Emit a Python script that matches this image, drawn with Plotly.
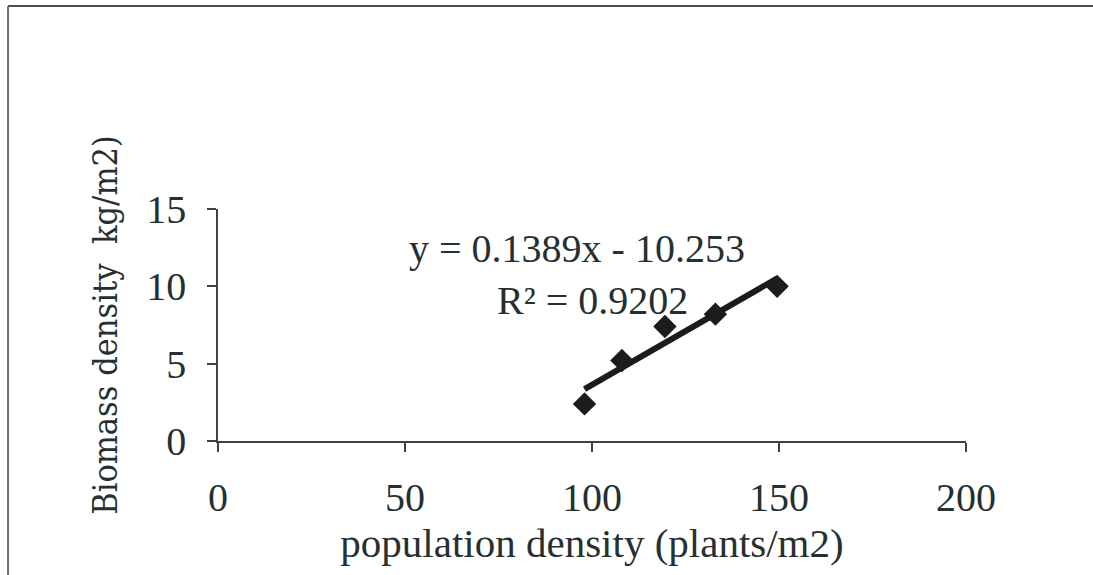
import plotly.graph_objects as go

# Population density (plants/m2) and biomass density (kg/m2)
population = [98, 108, 119.5, 133, 149.5]
biomass = [2.4, 5.2, 7.4, 8.2, 10.0]

# Linear trendline parameters as reported on the chart
SLOPE = 0.1389
INTERCEPT = -10.253
R2 = 0.9202

x_ticks = [0, 50, 100, 150, 200]
y_ticks = [0, 5, 10, 15]

ink = "#263030"
axis_col = "#3a4444"
serif = "Liberation Serif, Times New Roman, serif"

trend_x = [min(population), max(population)]
trend_y = [SLOPE * v + INTERCEPT for v in trend_x]

fig = go.Figure()
fig.add_trace(go.Scatter(
    x=trend_x, y=trend_y, mode="lines",
    line=dict(color="#1c1c1c", width=6),
    showlegend=False,
))
fig.add_trace(go.Scatter(
    x=population, y=biomass, mode="markers",
    marker=dict(symbol="diamond", size=18, color="#1c1c1c"),
    showlegend=False,
))

fig.add_annotation(
    x=0.48, y=0.828, xref="paper", yref="paper",
    xanchor="center", yanchor="middle",
    text=f"y = {SLOPE}x - {abs(INTERCEPT)}",
    showarrow=False, font=dict(family=serif, size=40, color=ink),
)
fig.add_annotation(
    x=0.5, y=0.605, xref="paper", yref="paper",
    xanchor="center", yanchor="middle",
    text=f"R² = {R2}",
    showarrow=False, font=dict(family=serif, size=40, color=ink),
)

# page frame lines (left and top)
fig.add_shape(type="line", xref="paper", yref="paper",
              x0=-0.2807, x1=1.2, y0=1.875, y1=1.875,
              line=dict(color="#5a4d40", width=2))
fig.add_shape(type="line", xref="paper", yref="paper",
              x0=-0.2807, x1=-0.2807, y0=1.875, y1=-0.6,
              line=dict(color="#6a6e70", width=2))

fig.update_xaxes(
    range=[0, 200], tickvals=x_ticks, ticks="outside", ticklen=9,
    tickwidth=1.5, tickcolor=axis_col, showline=True, linecolor=axis_col,
    linewidth=1.5, showgrid=False, zeroline=False, ticklabelstandoff=11,
    tickfont=dict(family=serif, size=40, color=ink),
    title=dict(text="population density (plants/m2)",
               font=dict(family=serif, size=41, color=ink), standoff=0),
)
fig.update_yaxes(
    range=[0, 15], tickvals=y_ticks, ticks="outside", ticklen=9,
    tickwidth=1.5, tickcolor=axis_col, showline=True, linecolor=axis_col,
    linewidth=1.5, showgrid=False, zeroline=False, ticklabelstandoff=13,
    tickfont=dict(family=serif, size=40, color=ink),
    title=dict(text="Biomass density  kg/m2)",
               font=dict(family="DejaVu Serif Condensed, DejaVu Serif, serif",
                         size=34, color=ink),
               standoff=18),
)

fig.update_layout(
    width=1093, height=575,
    margin=dict(l=218, r=127, t=209, b=134),
    paper_bgcolor="white", plot_bgcolor="white",
)

fig.write_html("out.html")
